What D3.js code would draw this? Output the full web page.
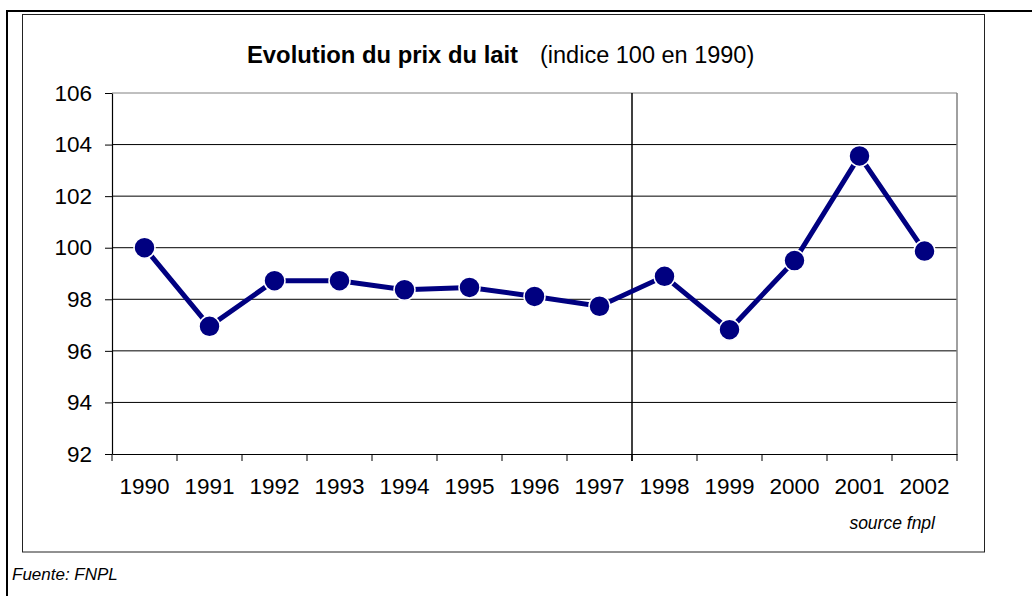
<!DOCTYPE html>
<html>
<head>
<meta charset="utf-8">
<script src="https://cdn.jsdelivr.net/npm/d3@7"></script>
<style>
  body { margin: 0; background: #fff; }
  svg { display: block; font-family: "Liberation Sans", Arial, sans-serif; }
</style>
</head>
<body>
<svg id="chart" width="1032" height="596"></svg>
<script>
// donnees
const years = ["1990", "1991", "1992", "1993", "1994", "1995", "1996", "1997", "1998", "1999", "2000", "2001", "2002"];
const prix = [100, 96.95, 98.72, 98.72, 98.37, 98.46, 98.11, 97.73, 98.89, 96.82, 99.5, 103.56, 99.87];
const yTicks = [92, 94, 96, 98, 100, 102, 104, 106];
const separation = "1998"; // ligne verticale avant cette annee

const svg = d3.select("#chart");

// cadre exterieur (haut + gauche)
svg.append("line").attr("x1", 6).attr("x2", 1032).attr("y1", 11).attr("y2", 11)
    .attr("stroke", "#000").attr("stroke-width", 2);
svg.append("line").attr("x1", 7).attr("x2", 7).attr("y1", 10).attr("y2", 596)
    .attr("stroke", "#000").attr("stroke-width", 2);

// cadre du graphique
svg.append("rect").attr("x", 22.5).attr("y", 14.5).attr("width", 962).attr("height", 537.5)
    .attr("fill", "#fff").attr("stroke", "#222").attr("stroke-width", 1);

const x = d3.scaleBand().domain(years).range([112, 957]).padding(0);
const y = d3.scaleLinear().domain([92, 106]).range([454, 93]);

// grille
svg.append("g").selectAll("line").data(yTicks.slice(1)).join("line")
    .attr("x1", 112).attr("x2", 957)
    .attr("y1", d => y(d)).attr("y2", d => y(d))
    .attr("stroke", d => d === 106 ? "#808080" : "#000").attr("stroke-width", 1);

// bord droit de la zone de trace
svg.append("line").attr("x1", 957).attr("x2", 957).attr("y1", y(106)).attr("y2", y(92))
    .attr("stroke", "#808080").attr("stroke-width", 1.5);

// axe Y
const yAxis = svg.append("g").attr("transform", "translate(112,0)")
    .call(d3.axisLeft(y).tickValues(yTicks).tickSize(7).tickSizeOuter(0).tickPadding(13));
yAxis.select(".domain").attr("stroke", "#000").attr("stroke-width", 1.2);
yAxis.selectAll("text").attr("font-size", 22.5).attr("fill", "#000")
    .attr("font-family", "Liberation Sans, Arial, sans-serif");

// axe X
const xAxis = svg.append("g").attr("transform", "translate(0," + y(92) + ")")
    .call(d3.axisBottom(x).tickSize(0).tickSizeOuter(0).tickPadding(24));
xAxis.select(".domain").attr("stroke", "#000").attr("stroke-width", 1.2);
xAxis.selectAll("text").attr("font-size", 22.5).attr("fill", "#000")
    .attr("font-family", "Liberation Sans, Arial, sans-serif");

// graduations entre les categories
const bornes = years.map(d => x(d)).concat([x.range()[1]]);
svg.append("g").selectAll("line").data(bornes).join("line")
    .attr("x1", d => d).attr("x2", d => d)
    .attr("y1", y(92)).attr("y2", y(92) + 7)
    .attr("stroke", "#000").attr("stroke-width", 1);

// ligne de separation 1997/1998
svg.append("line").attr("x1", x(separation)).attr("x2", x(separation))
    .attr("y1", y(106)).attr("y2", y(92) + 7)
    .attr("stroke", "#000").attr("stroke-width", 1.5);

// serie
const cx = d => x(d) + x.bandwidth() / 2;
const line = d3.line().x((d, i) => cx(years[i])).y(d => y(d));
svg.append("path").datum(prix).attr("d", line)
    .attr("fill", "none").attr("stroke", "#000080").attr("stroke-width", 5);
svg.append("g").selectAll("circle").data(prix).join("circle")
    .attr("cx", (d, i) => cx(years[i])).attr("cy", d => y(d)).attr("r", 10.5)
    .attr("fill", "#000080").attr("stroke", "#fff").attr("stroke-width", 1.5);

// titres
svg.append("text").attr("x", 247).attr("y", 63)
    .attr("font-size", 23.8).attr("font-weight", "bold").attr("fill", "#000")
    .text("Evolution du prix du lait");
svg.append("text").attr("x", 540).attr("y", 63)
    .attr("font-size", 23.5).attr("fill", "#000")
    .text("(indice 100 en 1990)");

svg.append("text").attr("x", 935).attr("y", 529).attr("text-anchor", "end")
    .attr("font-size", 17.5).attr("font-style", "italic").attr("fill", "#000")
    .text("source fnpl");

svg.append("text").attr("x", 12).attr("y", 580)
    .attr("font-size", 17).attr("font-style", "italic").attr("fill", "#000")
    .text("Fuente: FNPL");
</script>
</body>
</html>
